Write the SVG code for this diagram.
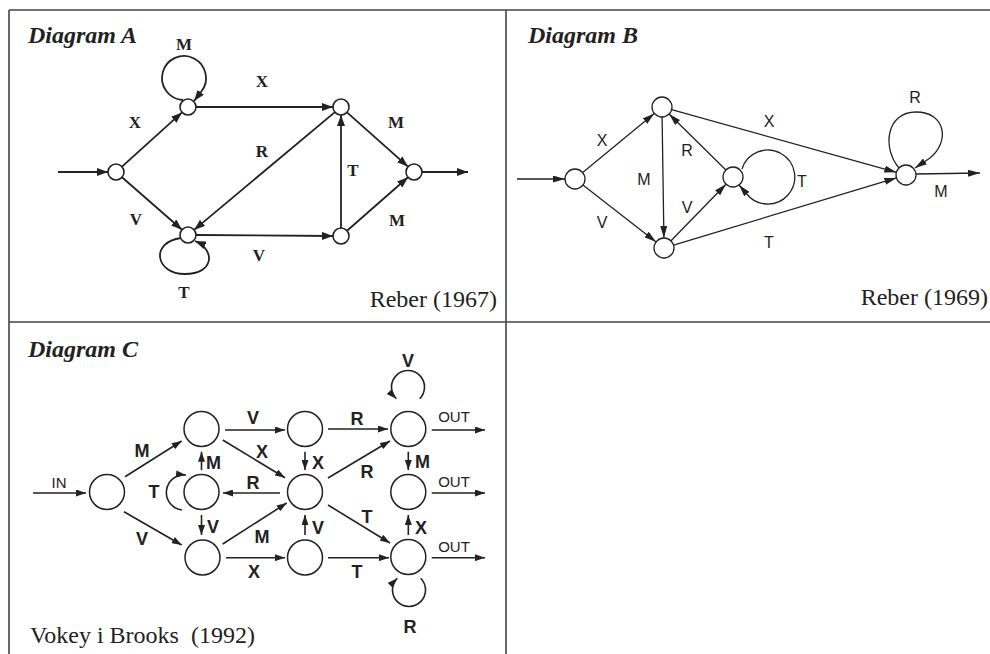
<svg xmlns="http://www.w3.org/2000/svg" width="990" height="654" viewBox="0 0 990 654">
<style>
.frame{stroke:#444;stroke-width:1.6;fill:none}
.node{fill:#fff;stroke:#222}
.na{stroke-width:1.6}
.nb{stroke-width:1.3}
.nc{stroke-width:1.5}
.ea{stroke:#222;stroke-width:1.8;fill:none}
.eb{stroke:#222;stroke-width:1.3;fill:none}
.ec{stroke:#222;stroke-width:1.6;fill:none}
.title{font-family:"Liberation Serif","Times New Roman",serif;font-weight:bold;font-style:italic;font-size:24px;fill:#222}
.cite{font-family:"Liberation Serif","Times New Roman",serif;font-size:24px;fill:#222}
.la{font-family:"Liberation Serif","Times New Roman",serif;font-weight:bold;font-size:17px;fill:#222;text-anchor:middle}
.lb{font-family:"Liberation Sans",Arial,sans-serif;font-size:16px;fill:#222;text-anchor:middle}
.lc{font-family:"Liberation Sans",Arial,sans-serif;font-weight:bold;font-size:18px;fill:#222;text-anchor:middle}
.st{text-anchor:start}
.io{font-family:"Liberation Sans",Arial,sans-serif;font-size:15px;fill:#222;text-anchor:middle}
</style>
<defs>
<marker id="ma" viewBox="0 0 11 8" refX="11" refY="4" markerWidth="11" markerHeight="8" orient="auto" markerUnits="userSpaceOnUse"><path d="M0,0 L11,4 L0,8 z" fill="#222"/></marker>
<marker id="mb" viewBox="0 0 12 7" refX="12" refY="3.5" markerWidth="12" markerHeight="7" orient="auto" markerUnits="userSpaceOnUse"><path d="M0,0 L12,3.5 L0,7 z" fill="#222"/></marker>
<marker id="mc" viewBox="0 0 10 7" refX="10" refY="3.5" markerWidth="10" markerHeight="7" orient="auto" markerUnits="userSpaceOnUse"><path d="M0,0 L10,3.5 L0,7 z" fill="#222"/></marker>
</defs>
<rect width="990" height="654" fill="#fff"/>
<g id="frame" class="frame">
<path d="M9,10 H990 M9,10 V654 M9,322 H990 M506,10 V654"/>
</g>

<!-- Diagram A -->
<text class="title" x="28" y="43">Diagram A</text>
<text class="cite" x="497" y="307" text-anchor="end">Reber (1967)</text>
<g id="connectors-a" class="ea">
<path d="M58,172 L108,172" marker-end="url(#ma)"/>
<path d="M122,166.6 L182,112.4" marker-end="url(#ma)"/>
<path d="M122,177.3 L182,229.7" marker-end="url(#ma)"/>
<path d="M196,107 L333,107" marker-end="url(#ma)"/>
<path d="M334.9,112.1 L194.1,229.9" marker-end="url(#ma)"/>
<path d="M196,235 L333,236" marker-end="url(#ma)"/>
<path d="M341,228 L341,115" marker-end="url(#ma)"/>
<path d="M347,112.3 L408,166.7" marker-end="url(#ma)"/>
<path d="M347,230.7 L408,177.3" marker-end="url(#ma)"/>
<path d="M422,172 L468,172" marker-end="url(#ma)"/>
<path d="M183,100 A22 22 0 1 1 201,92 L194,101" marker-end="url(#ma)"/>
<path d="M181,238 C150,242 155,274 185,274 C214,274 216,250 195,241" marker-end="url(#ma)"/>
</g>
<g id="labels-a">
<text class="la" x="184" y="50">M</text>
<text class="la" x="262" y="87">X</text>
<text class="la" x="135" y="128">X</text>
<text class="la" x="262" y="157">R</text>
<text class="la" x="353" y="176">T</text>
<text class="la" x="396" y="128">M</text>
<text class="la" x="136" y="225">V</text>
<text class="la" x="397" y="226">M</text>
<text class="la" x="259" y="261">V</text>
<text class="la" x="184" y="298">T</text>
</g>
<g id="a-n0"><circle class="node na" cx="116" cy="172" r="8"/></g>
<g id="a-n1"><circle class="node na" cx="188" cy="107" r="8"/></g>
<g id="a-n2"><circle class="node na" cx="188" cy="235" r="8"/></g>
<g id="a-n3"><circle class="node na" cx="341" cy="107" r="8"/></g>
<g id="a-n4"><circle class="node na" cx="341" cy="236" r="8"/></g>
<g id="a-n5"><circle class="node na" cx="414" cy="172" r="8"/></g>

<!-- Diagram B -->
<text class="title" x="528" y="43">Diagram B</text>
<text class="cite" x="988" y="305" text-anchor="end">Reber (1969)</text>
<g id="connectors-b" class="eb">
<path d="M517,179 L565,179" marker-end="url(#mb)"/>
<path d="M582.7,172.6 L654.3,113.4" marker-end="url(#mb)"/>
<path d="M582.9,185.1 L656.1,241.9" marker-end="url(#mb)"/>
<path d="M662.1,117 L663.9,238" marker-end="url(#mb)"/>
<path d="M725.9,170 L669.1,114" marker-end="url(#mb)"/>
<path d="M671,240.8 L726,184.2" marker-end="url(#mb)"/>
<path d="M671.6,109.7 L896.4,172.3" marker-end="url(#mb)"/>
<path d="M673.6,245.1 L896.4,177.9" marker-end="url(#mb)"/>
<path d="M916,174 L980,173" marker-end="url(#mb)"/>
<path d="M742,169 A27 27 0 1 1 746,193 L739,185" marker-end="url(#mb)"/>
<path d="M899,168 C882,148 886,112 916,112 C946,112 950,142 930,158 L915,168" marker-end="url(#mb)"/>
</g>
<g id="labels-b">
<text class="lb" x="602" y="146">X</text>
<text class="lb" x="602" y="228">V</text>
<text class="lb" x="644" y="185">M</text>
<text class="lb" x="687" y="156">R</text>
<text class="lb" x="687" y="213">V</text>
<text class="lb" x="769" y="127">X</text>
<text class="lb" x="802" y="187">T</text>
<text class="lb" x="769" y="248">T</text>
<text class="lb" x="915" y="103">R</text>
<text class="lb" x="941" y="197">M</text>
</g>
<g id="b-n0"><circle class="node nb" cx="575" cy="179" r="10"/></g>
<g id="b-n1"><circle class="node nb" cx="662" cy="107" r="10"/></g>
<g id="b-n2"><circle class="node nb" cx="664" cy="248" r="10"/></g>
<g id="b-n3"><circle class="node nb" cx="733" cy="177" r="10"/></g>
<g id="b-n4"><circle class="node nb" cx="906" cy="175" r="10"/></g>

<!-- Diagram C -->
<text class="title" x="28" y="357">Diagram C</text>
<text class="cite" x="30" y="643" xml:space="preserve">Vokey i Brooks  (1992)</text>
<g id="connectors-c" class="ec">
<path d="M33,493 L86,493" marker-end="url(#mc)"/>
<path d="M125,476.7 L181.7,441" marker-end="url(#mc)"/>
<path d="M124,511.7 L181.7,545" marker-end="url(#mc)"/>
<path d="M225,430 L285,430" marker-end="url(#mc)"/>
<path d="M222.7,440 L285,477.7" marker-end="url(#mc)"/>
<path d="M328,429 L388,429" marker-end="url(#mc)"/>
<path d="M328,478 L390,441" marker-end="url(#mc)"/>
<path d="M280,493 L223,493" marker-end="url(#mc)"/>
<path d="M328,505 L390,543" marker-end="url(#mc)"/>
<path d="M222.7,544 L286.7,503" marker-end="url(#mc)"/>
<path d="M226,557.7 L285,557.7" marker-end="url(#mc)"/>
<path d="M328,557.7 L389,557.7" marker-end="url(#mc)"/>
<path d="M305,535 L305,515" marker-end="url(#mc)"/>
<path d="M305,451.7 L305,470" marker-end="url(#mc)"/>
<path d="M201.5,470 L201.5,451.7" marker-end="url(#mc)"/>
<path d="M201.5,515 L201.5,535" marker-end="url(#mc)"/>
<path d="M408.3,451.7 L408.3,470" marker-end="url(#mc)"/>
<path d="M408.3,535 L408.3,515" marker-end="url(#mc)"/>
<path d="M431.7,430 L485,430" marker-end="url(#mc)"/>
<path d="M431.7,493 L485,493" marker-end="url(#mc)"/>
<path d="M431.7,557.7 L485,557.7" marker-end="url(#mc)"/>
<path d="M182,510 A17.5 17.5 0 0 1 186,475" marker-end="url(#mc)"/>
<path d="M419.7,398.7 A16.5 16.5 0 1 0 396.3,398.7" marker-end="url(#mc)"/>
<path d="M420.7,578.3 A16.5 16.5 0 1 1 397.3,578.3" marker-end="url(#mc)"/>
</g>
<g id="labels-c">
<text class="io" x="59" y="488">IN</text>
<text class="io" x="454" y="422">OUT</text>
<text class="io" x="454" y="487">OUT</text>
<text class="io" x="454" y="552">OUT</text>
<text class="lc" x="142" y="457">M</text>
<text class="lc" x="142" y="545">V</text>
<text class="lc" x="253" y="424">V</text>
<text class="lc" x="262" y="458">X</text>
<text class="lc st" x="206" y="469">M</text>
<text class="lc st" x="312" y="469">X</text>
<text class="lc" x="357" y="425">R</text>
<text class="lc" x="367" y="478">R</text>
<text class="lc st" x="415" y="468">M</text>
<text class="lc" x="154" y="498">T</text>
<text class="lc" x="253" y="489">R</text>
<text class="lc st" x="207" y="533">V</text>
<text class="lc" x="262" y="543">M</text>
<text class="lc st" x="312" y="534">V</text>
<text class="lc" x="367" y="523">T</text>
<text class="lc st" x="415" y="534">X</text>
<text class="lc" x="254" y="578">X</text>
<text class="lc" x="357" y="578">T</text>
<text class="lc" x="408" y="367">V</text>
<text class="lc" x="410" y="633">R</text>
</g>
<g id="c-in"><circle class="node nc" cx="107" cy="492" r="17.5"/></g>
<g id="c-t1"><circle class="node nc" cx="201.5" cy="429" r="17.5"/></g>
<g id="c-m1"><circle class="node nc" cx="201.5" cy="492" r="17.5"/></g>
<g id="c-b1"><circle class="node nc" cx="202.5" cy="557.5" r="17.5"/></g>
<g id="c-t2"><circle class="node nc" cx="305" cy="429" r="17.5"/></g>
<g id="c-m2"><circle class="node nc" cx="305" cy="492" r="17.5"/></g>
<g id="c-b2"><circle class="node nc" cx="305" cy="557.5" r="17.5"/></g>
<g id="c-t3"><circle class="node nc" cx="408.3" cy="429" r="17.5"/></g>
<g id="c-m3"><circle class="node nc" cx="408.3" cy="492" r="17.5"/></g>
<g id="c-b3"><circle class="node nc" cx="408.3" cy="557" r="17.5"/></g>
</svg>
